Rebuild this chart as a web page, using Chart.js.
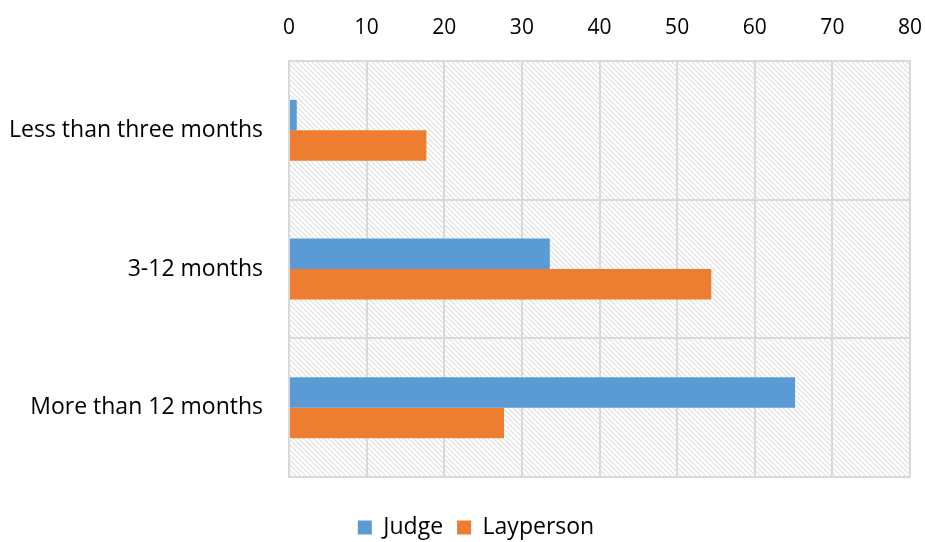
<!DOCTYPE html>
<html>
<head>
<meta charset="utf-8">
<script src="https://cdn.jsdelivr.net/npm/chart.js@4.4.1/dist/chart.umd.min.js"></script>
<style>
  html, body { margin: 0; padding: 0; background: #fff; }
  #wrap { width: 925px; height: 542px; }
</style>
</head>
<body>
<div id="wrap"><canvas id="chart" width="925" height="542"></canvas></div>
<script>
// data
const categories = ['Less than three months', '3-12 months', 'More than 12 months'];
const judge = [1.0, 33.6, 65.2];
const layperson = [17.7, 54.4, 27.7];
const xTicks = [0, 10, 20, 30, 40, 50, 60, 70, 80];

const gridColor = '#d9d9d9';

// light diagonal hatch behind the plot
function makeHatch() {
    const p = document.createElement('canvas');
    p.width = 5; p.height = 5;
    const c = p.getContext('2d');
    c.fillStyle = '#fff';
    c.fillRect(0, 0, 5, 5);
    c.strokeStyle = '#dedede';
    c.lineWidth = 1.1;
    c.beginPath();
    c.moveTo(-1, -1); c.lineTo(6, 6);
    c.moveTo(-1, 4); c.lineTo(1, 6);
    c.moveTo(4, -1); c.lineTo(6, 1);
    c.stroke();
    return c.createPattern(p, 'repeat');
}

const hatchPlugin = {
    id: 'hatch',
    beforeDraw(chart) {
        const a = chart.chartArea;
        const ctx = chart.ctx;
        ctx.save();
        ctx.fillStyle = makeHatch();
        ctx.fillRect(a.left, a.top, a.right - a.left, a.bottom - a.top);
        ctx.restore();
    }
};

// nudge the legend a little to the right, like the original
const legendShift = {
    id: 'legendShift',
    afterLayout(chart) {
        const lg = chart.legend;
        if (lg) { lg.left += 21; lg.right += 21; }
    }
};

Chart.defaults.font.family = "'Open Sans', sans-serif";
Chart.defaults.color = '#000';

new Chart(document.getElementById('chart'), {
    type: 'bar',
    data: {
        labels: categories,
        datasets: [
            { label: 'Judge', data: judge, backgroundColor: '#5B9BD5', categoryPercentage: 0.44, barPercentage: 1.0 },
            { label: 'Layperson', data: layperson, backgroundColor: '#ED7D31', categoryPercentage: 0.44, barPercentage: 1.0 }
        ]
    },
    options: {
        indexAxis: 'y',
        responsive: false,
        animation: false,
        layout: { padding: { left: 0, right: 15, top: 0, bottom: -7 } },
        plugins: {
            legend: {
                position: 'bottom',
                labels: { font: { size: 23 }, boxWidth: 14, boxHeight: 14, padding: 14, color: '#000' }
            },
            tooltip: { enabled: false }
        },
        scales: {
            x: {
                position: 'top',
                min: 0, max: 80,
                afterBuildTicks(axis) { axis.ticks = xTicks.map(v => ({ value: v })); },
                afterFit(axis) { axis.height = 61; axis.paddingLeft = 0; axis.paddingRight = 0; },
                grid: { color: gridColor, lineWidth: 2, drawTicks: false },
                border: { color: gridColor, width: 2 },
                ticks: { font: { size: 21 }, padding: 20 }
            },
            // empty spacer between plot and legend
            gap: {
                type: 'linear',
                axis: 'x',
                position: 'bottom',
                afterFit(axis) { axis.height = 25; axis.paddingLeft = 0; axis.paddingRight = 0; },
                grid: { display: false },
                border: { display: false },
                ticks: { display: false }
            },
            y: {
                afterFit(axis) { axis.width = 289; },
                grid: { color: gridColor, lineWidth: 2, offset: true, drawTicks: false },
                border: { color: gridColor, width: 2 },
                ticks: { font: { size: 23 }, padding: 26 }
            }
        }
    },
    plugins: [hatchPlugin, legendShift]
});
</script>
</body>
</html>
